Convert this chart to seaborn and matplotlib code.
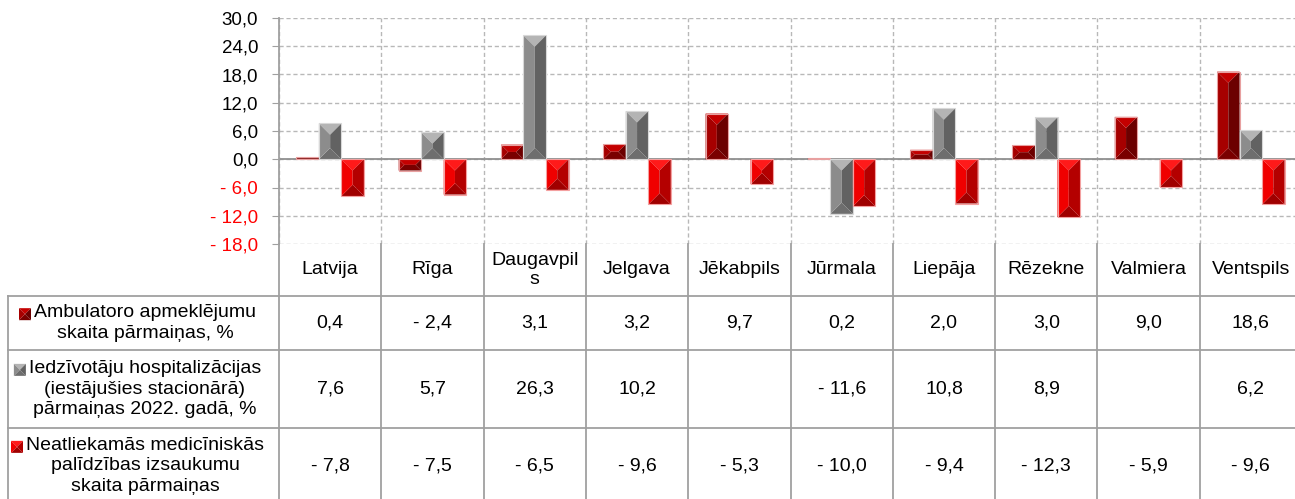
import matplotlib
matplotlib.use("Agg")
import matplotlib.pyplot as plt
import matplotlib.transforms as mtransforms
from matplotlib.patches import Polygon
from matplotlib.lines import Line2D
import numpy as np
import pandas as pd
import seaborn as sns

cities = ["Latvija", "Rīga", "Daugavpils", "Jelgava", "Jēkabpils",
          "Jūrmala", "Liepāja", "Rēzekne", "Valmiera", "Ventspils"]
city_labels = ["Latvija", "Rīga", "Daugavpil\ns", "Jelgava", "Jēkabpils",
               "Jūrmala", "Liepāja", "Rēzekne", "Valmiera", "Ventspils"]
series_names = ["Ambulatoro apmeklējumu\nskaita pārmaiņas, %",
                "Iedzīvotāju hospitalizācijas\n(iestājušies stacionārā)\npārmaiņas 2022. gadā, %",
                "Neatliekamās medicīniskās\npalīdzības izsaukumu\nskaita pārmaiņas"]
ambulatory = [0.4, -2.4, 3.1, 3.2, 9.7, 0.2, 2.0, 3.0, 9.0, 18.6]
hospital = [7.6, 5.7, 26.3, 10.2, np.nan, -11.6, 10.8, 8.9, np.nan, 6.2]
emergency = [-7.8, -7.5, -6.5, -9.6, -5.3, -10.0, -9.4, -12.3, -5.9, -9.6]
y_ticks = [-18, -12, -6, 0, 6, 12, 18, 24, 30]

# Shading for the bevelled bars: top, left, right, bottom, outline
shades = [
    {"top": "#C40000", "left": "#A60000", "right": "#6C0000", "bottom": "#7A0000", "edge": "#E8A0A0"},
    {"top": "#B4B4B4", "left": "#8C8C8C", "right": "#626262", "bottom": "#6E6E6E", "edge": "#D8D8D8"},
    {"top": "#FF1A1A", "left": "#F00000", "right": "#B40000", "bottom": "#A00000", "edge": "#F4A0A0"},
]

W, H = 1295, 499
plt.rcParams['font.family'] = ['Liberation Sans', 'DejaVu Sans']


def fx(px):
    return px / W


def fy(py):
    return 1 - py / H


def fmt(v):
    if v < 0:
        return "- " + f"{abs(v):.1f}".replace('.', ',')
    return f"{v:.1f}".replace('.', ',')


# Four bevel faces of a rectangle given in display pixels
def bevel_polys(left, right, bot, top):
    d = min((right - left) / 2, (top - bot) / 2)
    il, ir, ib, it = left + d, right - d, bot + d, top - d
    return {
        'top': [(left, top), (right, top), (ir, it), (il, it)],
        'bottom': [(left, bot), (right, bot), (ir, ib), (il, ib)],
        'left': [(left, bot), (left, top), (il, it), (il, ib)],
        'right': [(right, bot), (right, top), (ir, it), (ir, ib)],
    }


values = {series_names[0]: ambulatory, series_names[1]: hospital, series_names[2]: emergency}
rows = []
for name, vals in values.items():
    for city, v in zip(cities, vals):
        rows.append({'city': city, 'series': name, 'value': v})
df = pd.DataFrame(rows).dropna()

fig = plt.figure(figsize=(W / 100, H / 100), dpi=100)
ax = fig.add_axes([fx(279), fy(244), fx(1302) - fx(279), fy(18) - fy(244)])

sns.barplot(data=df, x='city', y='value', hue='series', order=cities, hue_order=series_names,
            width=0.66, gap=0, legend=False, ax=ax, errorbar=None, zorder=3)

ax.set_xlim(-0.5, len(cities) - 0.5)
ax.set_ylim(-18, 30)
ax.set_yticks(y_ticks)
ax.set_yticklabels([fmt(v) for v in y_ticks], fontsize=13.5)
for lab, v in zip(ax.get_yticklabels(), y_ticks):
    lab.set_color('#FF0000' if v < 0 else 'black')
ax.set_xticks([])
ax.set_xticks(np.arange(len(cities)) - 0.5, minor=True)
ax.tick_params(axis='x', which='both', length=0)
ax.tick_params(axis='y', length=5, color='#A0A0A0', pad=10)
ax.set_xlabel('')
ax.set_ylabel('')
ax.grid(axis='y', which='major', linestyle=(0, (3, 2)), color='#B8B8B8', linewidth=1.0)
ax.grid(axis='x', which='minor', linestyle=(0, (3, 2)), color='#B8B8B8', linewidth=1.0)
ax.set_axisbelow(True)
for s in ['top', 'right', 'bottom']:
    ax.spines[s].set_visible(False)
ax.spines['left'].set_color('#A0A0A0')
ax.spines['left'].set_linewidth(1.3)
ax.axhline(0, color='#909090', linewidth=1.3, zorder=2)

# Bevel effect on every bar
inv = ax.transData.inverted()
for container, sh in zip(ax.containers, shades):
    for patch in container.patches:
        x0, y0 = patch.get_x(), patch.get_y()
        w, h = patch.get_width(), patch.get_height()
        if not np.isfinite(h):
            continue
        (px0, py0), (px1, py1) = ax.transData.transform([(x0, y0), (x0 + w, y0 + h)])
        polys = bevel_polys(min(px0, px1), max(px0, px1), min(py0, py1), max(py0, py1))
        for side, pts in polys.items():
            ax.add_patch(Polygon(inv.transform(pts), closed=True, facecolor=sh[side],
                                 edgecolor='none', zorder=3.5))
        patch.set_facecolor('none')
        patch.set_edgecolor(sh['edge'])
        patch.set_linewidth(0.8)
        patch.set_zorder(4)

# Data table under the chart
line_c = '#A0A0A0'
blend = mtransforms.blended_transform_factory(ax.transData, fig.transFigure)
for b in np.arange(len(cities) + 1) - 0.5:
    fig.add_artist(Line2D([b, b], [fy(244), fy(H + 5)], transform=blend, color=line_c, lw=1.3))
fig.add_artist(Line2D([fx(8), fx(8)], [fy(296), fy(H + 5)], transform=fig.transFigure, color=line_c, lw=1.3))
for py in [296, 350, 428]:
    fig.add_artist(Line2D([fx(8), 1.0], [fy(py), fy(py)], transform=fig.transFigure, color=line_c, lw=1.3))

for i, lab in enumerate(city_labels):
    fig.text(i, fy(270), lab, transform=blend, ha='center', va='center', fontsize=14, linespacing=1.2)

row_centers = [323, 389, 466]
renderer = fig.canvas.get_renderer()
for name, vals, yc, sh in zip(series_names, [ambulatory, hospital, emergency], row_centers, shades):
    t = fig.text(fx(145), fy(yc), name, ha='center', va='center', ma='center', fontsize=14, linespacing=1.28)
    for i, v in enumerate(vals):
        if np.isfinite(v):
            fig.text(i, fy(yc), fmt(v), transform=blend, ha='center', va='center', fontsize=14)
    # legend key left of the first line
    ext = t.get_window_extent(renderer)
    first = fig.text(fx(145), fy(yc), name.split('\n')[0], ha='center', va='center', fontsize=14)
    fext = first.get_window_extent(renderer)
    first.remove()
    size = 12
    kx1 = fext.x0 - 3
    kx0 = kx1 - size
    ky1 = ext.y1 - 4
    ky0 = ky1 - size
    for side, pts in bevel_polys(kx0, kx1, ky0, ky1).items():
        fig.add_artist(Polygon(pts, closed=True, facecolor=sh[side], edgecolor='none',
                               transform=mtransforms.IdentityTransform()))

fig.savefig('out.png', dpi=100)
